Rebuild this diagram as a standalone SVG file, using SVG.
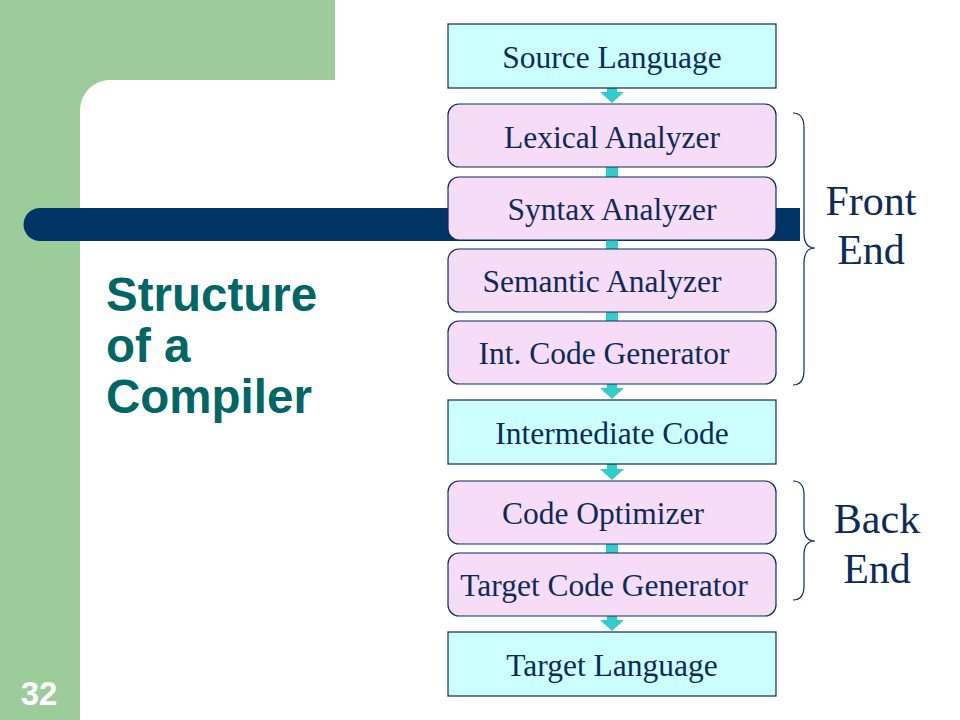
<svg xmlns="http://www.w3.org/2000/svg" width="960" height="720" viewBox="0 0 960 720">
<style>
.box text{font-family:"Liberation Serif","Times New Roman",serif;font-size:31.5px;fill:#0d2b5a;text-anchor:middle}
.cyan{fill:#ccffff;stroke:#0d2b5a;stroke-width:1.2}
.pink{fill:#f7dcf8;stroke:#0d2b5a;stroke-width:1.2}
.lbl{font-family:"Liberation Serif","Times New Roman",serif;font-size:42px;fill:#0d2b5a;text-anchor:middle}
.brace{fill:none;stroke:#0d2b5a;stroke-width:1.2}
.conn{fill:#33cccc}
</style>
<rect width="960" height="720" fill="#ffffff"/>
<path d="M0,0 H335 V80 H110 A30,30 0 0 0 80,110 V720 H0 Z" fill="#9ccc9a"/>
<path d="M40,208 H800 V241 H40 A16.5,16.5 0 0 1 40,208 Z" fill="#003366"/>
<text x="39" y="705" font-family="Liberation Sans,Arial,sans-serif" font-weight="bold" font-size="33" fill="#ffffff" text-anchor="middle">32</text>
<g id="title" font-family="Liberation Sans,Arial,sans-serif" font-weight="bold" font-size="47.5" fill="#006666">
<text x="106" y="311">Structure</text>
<text x="106" y="362">of a</text>
<text x="106" y="413">Compiler</text>
</g>
<g id="connectors">
<path class="conn" d="M607,88 H617 V92 H624 L612,103 L600,92 H607 Z"/>
<rect class="conn" x="606" y="167" width="12" height="10"/>
<rect class="conn" x="606" y="240" width="12" height="9"/>
<rect class="conn" x="606" y="312" width="12" height="9"/>
<path class="conn" d="M607,384 H617 V388 H624 L612,399 L600,388 H607 Z"/>
<path class="conn" d="M607,464 H617 V469 H624 L612,480 L600,469 H607 Z"/>
<rect class="conn" x="606" y="544" width="12" height="9"/>
<path class="conn" d="M607,616 H617 V620 H624 L612,631 L600,620 H607 Z"/>
</g>
<g id="source" class="box"><rect class="cyan" x="448" y="24" width="328" height="64"/><text x="612" y="68">Source Language</text></g>
<g id="lexical" class="box"><rect class="pink" x="448" y="104" width="328" height="63" rx="11"/><text x="612" y="148">Lexical Analyzer</text></g>
<g id="syntax" class="box"><rect class="pink" x="448" y="177" width="328" height="63" rx="11"/><text x="612" y="220">Syntax Analyzer</text></g>
<g id="semantic" class="box"><rect class="pink" x="448" y="249" width="328" height="63" rx="11"/><text x="602" y="292">Semantic Analyzer</text></g>
<g id="intcode" class="box"><rect class="pink" x="448" y="321" width="328" height="63" rx="11"/><text x="604" y="364">Int. Code Generator</text></g>
<g id="intermediate" class="box"><rect class="cyan" x="448" y="400" width="328" height="64"/><text x="612" y="444">Intermediate Code</text></g>
<g id="optimizer" class="box"><rect class="pink" x="448" y="481" width="328" height="63" rx="11"/><text x="603" y="524">Code Optimizer</text></g>
<g id="targetgen" class="box"><rect class="pink" x="448" y="553" width="328" height="63" rx="11"/><text x="604" y="596">Target Code Generator</text></g>
<g id="target" class="box"><rect class="cyan" x="448" y="632" width="328" height="64"/><text x="612" y="676">Target Language</text></g>
<g id="frontend">
<path class="brace" d="M793,113 Q804,113 804,128 V233 Q804,248 815,248 Q804,248 804,263 V370 Q804,385 793,385"/>
<text class="lbl" x="871" y="215">Front</text>
<text class="lbl" x="871" y="264">End</text>
</g>
<g id="backend">
<path class="brace" d="M793,481 Q804,481 804,495 V527 Q804,541 815,541 Q804,541 804,555 V586 Q804,600 793,600"/>
<text class="lbl" x="877" y="533">Back</text>
<text class="lbl" x="877" y="583">End</text>
</g>
</svg>
